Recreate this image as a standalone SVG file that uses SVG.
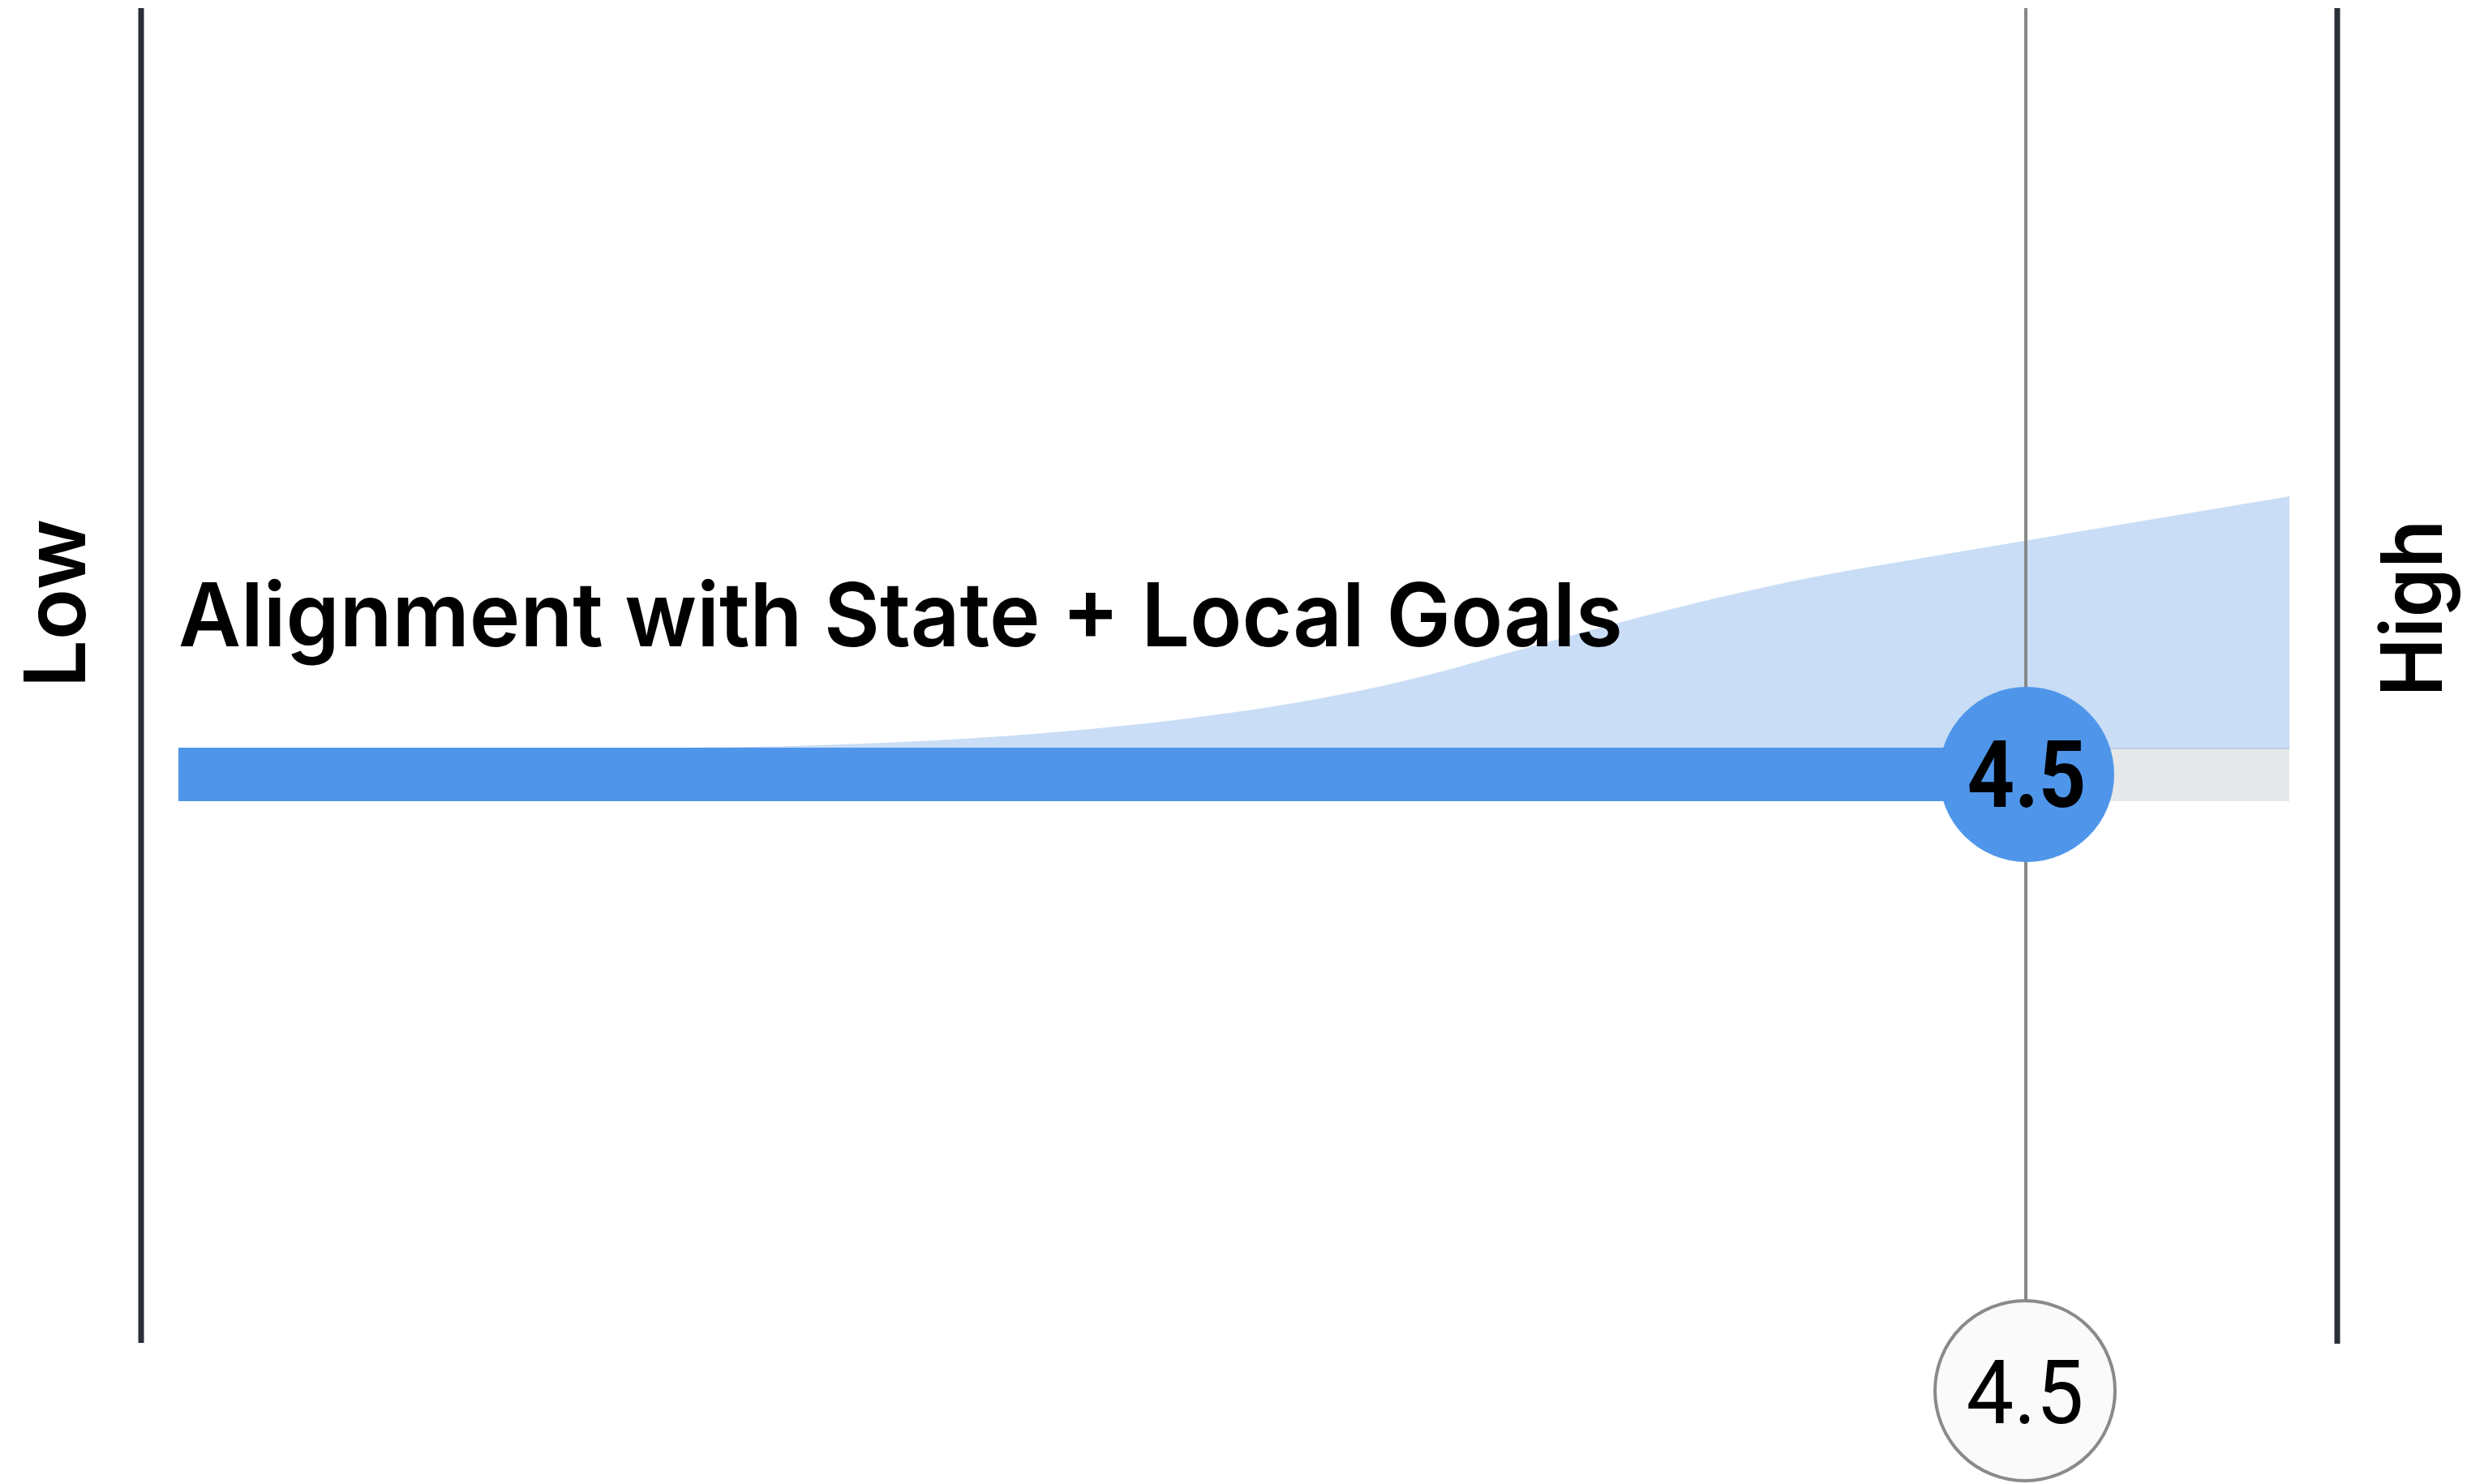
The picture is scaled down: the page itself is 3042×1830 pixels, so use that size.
<svg xmlns="http://www.w3.org/2000/svg" width="3042" height="1830" viewBox="0 0 3042 1830">
<style>
.axis{stroke:#2b2f38;stroke-width:7;fill:none}
.guide{stroke:#888;stroke-width:4;fill:none}
.lbl{font-family:Inter,"Liberation Sans",sans-serif;font-weight:600;fill:#000}
.num{font-family:Roboto,"Liberation Sans",sans-serif;fill:#000;text-anchor:middle}
</style>
<rect width="3042" height="1830" fill="#fff"/>
<g id="axes">
<line class="axis" x1="174" y1="10" x2="174" y2="1656"/>
<line class="axis" x1="2882" y1="10" x2="2882" y2="1657"/>
<text class="lbl" font-size="105" transform="translate(105,848) rotate(-90)" textLength="208" lengthAdjust="spacingAndGlyphs">Low</text>
<text class="lbl" font-size="105" transform="translate(3011,859) rotate(-90)" textLength="218" lengthAdjust="spacingAndGlyphs">High</text>
</g>
<g id="area">
<path d="M 850 922 C 1300 918 1600 878 1800 822 C 1960 777 2125 730 2300 700 L 2823 612 L 2823 922 Z" fill="#c9ddf6"/>
<line x1="2499" y1="923" x2="2823" y2="923" stroke="#bfcbdc" stroke-width="2"/>
</g>
<g id="bars">
<rect x="2450" y="924" width="373" height="64" fill="#e7e8e9"/>
<rect x="220" y="922" width="2279" height="66" fill="#4f96ea"/>
</g>
<text id="title" class="lbl" x="220" y="797" font-size="109" textLength="1781" lengthAdjust="spacingAndGlyphs">Alignment with State + Local Goals</text>
<g id="connectors">
<line class="guide" x1="2498" y1="10" x2="2498" y2="1603"/>
</g>
<g id="marker-main">
<circle cx="2499" cy="955" r="108" fill="#4f96ea"/>
<text class="num" x="2499" y="995" font-size="115" font-weight="700" textLength="147" lengthAdjust="spacingAndGlyphs">4.5</text>
</g>
<g id="marker-value">
<circle cx="2497" cy="1715" r="111" fill="#fafafa" stroke="#8a8a8a" stroke-width="4"/>
<text class="num" x="2497" y="1755" font-size="110" font-weight="400" textLength="145" lengthAdjust="spacingAndGlyphs">4.5</text>
</g>
</svg>
